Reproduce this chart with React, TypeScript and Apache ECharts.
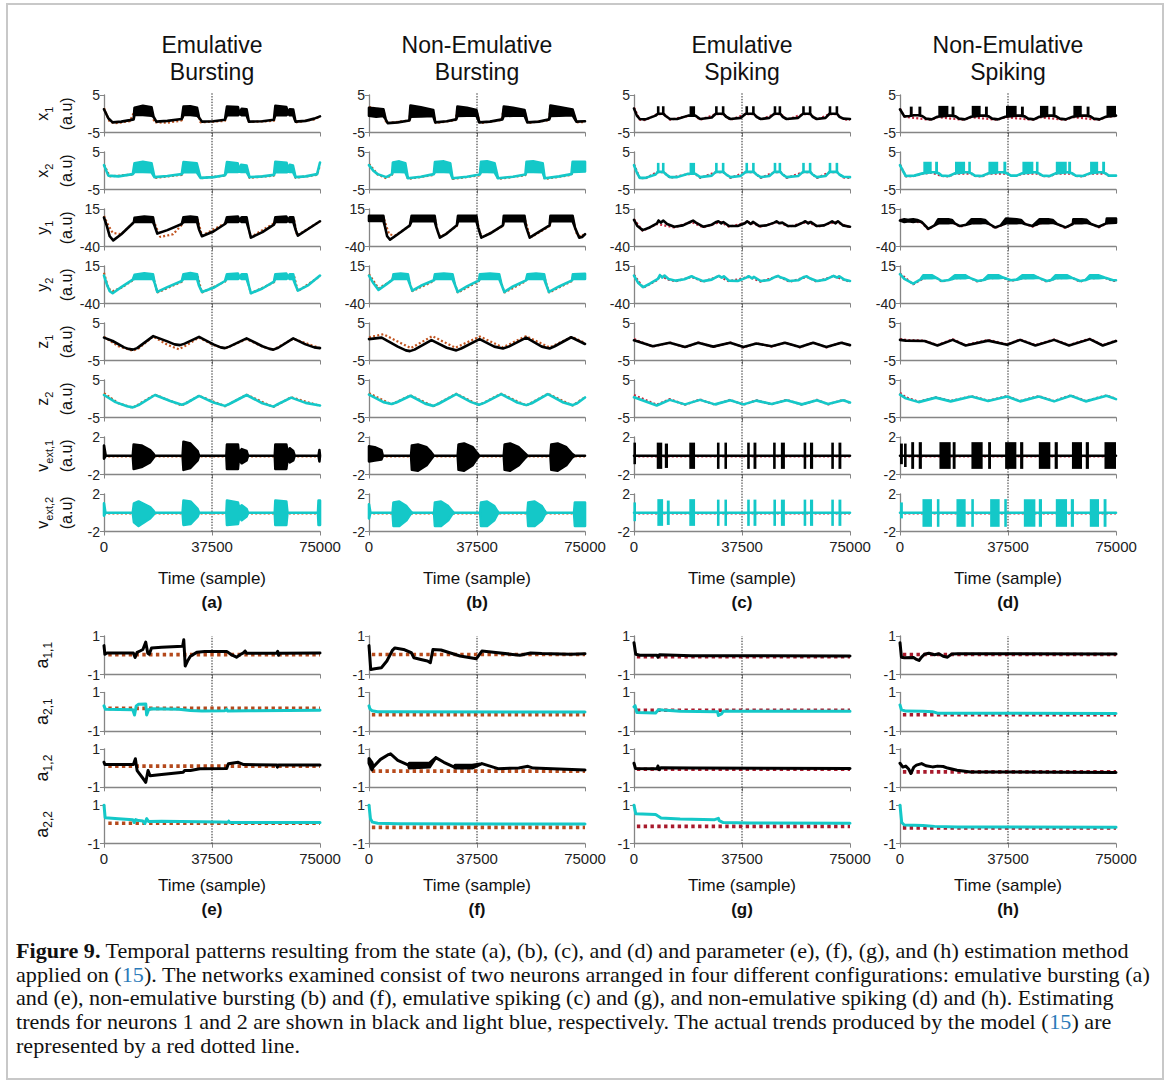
import React, { useEffect, useRef } from "react";
import * as echarts from "echarts";

// ---------------- DATA (time in thousands of samples, values in a.u.) ----------------
const TIME_TICKS = [0, 37500, 75000];
const COL_TITLES = ["Emulative\nBursting", "Non-Emulative\nBursting", "Emulative\nSpiking", "Non-Emulative\nSpiking"];
const STATE_LETTERS = ["(a)", "(b)", "(c)", "(d)"];
const PARAM_LETTERS = ["(e)", "(f)", "(g)", "(h)"];
const STATE_NAMES = [["x", "1"], ["x", "2"], ["y", "1"], ["y", "2"], ["z", "1"], ["z", "2"], ["v", "ext,1"], ["v", "ext,2"]];
const STATE_RANGES = [[-5, 5], [-5, 5], [-40, 15], [-40, 15], [-5, 5], [-5, 5], [-2, 2], [-2, 2]];
const PARAM_NAMES = [["a", "1,1"], ["a", "2,1"], ["a", "1,2"], ["a", "2,2"]];
const PARAM_RANGE = [-1, 1];

// ---- (a) Emulative bursting ----  [t, lo, hi?]
const a_x1_est = [[0,1.2],[1.5,-1.2],[3,-2.3],[6,-2.1],[9,-1.7],[10.3,-1.5],[10.6,-0.3,1.6],[13.5,-0.3,2.1],[16.5,-0.5,1.7],[17.2,-0.8],[18.2,-2.1],[22,-1.9],[27,-1.4],[27.6,-0.3,1.9],[30,-0.3,2.0],[32.3,-0.5,1.6],[33,-1.0],[34,-2.1],[38,-2.0],[42,-1.6],[42.7,-0.3,1.9],[46.5,-0.4,1.8],[47,0],[47.8,-0.4,1.3],[49.5,-0.4,1.2],[50.3,-2.1],[55,-2.0],[59,-1.6],[59.5,-0.3,2.1],[63.3,-0.4,1.8],[64,0],[64.5,-0.4,1.2],[65.7,-0.4,1.1],[66.5,-2.1],[70,-1.9],[73,-1.3],[75,-0.7]];
const a_x1_act = [[0,1.5],[2,-2.2],[4,-2.5],[9,-2.0],[10.5,0.5],[16.5,0.7],[17.5,-2.3],[22,-2.4],[27,-1.8],[28,0.6],[32.3,0.6],[33.5,-2.3],[42,-1.9],[43,0.6],[46.5,0.5],[47.8,0.4],[49.5,0.3],[50.3,-2.2],[59,-1.9],[59.8,0.6],[63.3,0.6],[65.7,0.3],[66.5,-2.3],[73,-1.5],[75,-0.8]];
const a_x2_est = [[0,1.5],[1.5,-1.3],[5,-1.5],[10,-0.9],[10.6,-0.3,2.0],[13.5,-0.3,2.4],[16.5,-0.4,2.0],[17.5,-1.7],[22,-1.4],[27,-0.9],[27.6,-0.3,2.3],[32.2,-0.4,2.0],[33.5,-1.9],[38,-1.7],[42,-1.2],[42.7,-0.3,2.3],[46.4,-0.3,2.0],[47,-0.2],[47.6,-0.3,1.6],[49.5,-0.3,1.4],[50.5,-1.7],[55,-1.5],[59,-1.1],[59.5,-0.3,2.4],[63.4,-0.4,2.1],[64,-0.2],[64.5,-0.3,1.6],[65.6,-0.3,1.4],[66.5,-1.7],[70,-1.5],[74,-0.9],[74.6,1.0],[75,2.2]];
const a_x2_act = [[0,1.6],[2,-1.5],[10,-1.0],[10.6,0.8],[16.5,0.8],[17.5,-1.9],[27,-1.1],[28,0.8],[32.2,0.8],[33.5,-2.0],[42,-1.3],[43,0.8],[49.5,0.6],[50.5,-1.9],[59,-1.3],[60,0.8],[65.6,0.6],[66.5,-1.9],[74,-1.1],[75,1.5]];
const a_y1_est = [[0,2.5],[1,-10],[2,-25],[3.2,-31],[6,-22],[10,-6],[10.4,-4],[10.6,-4,2],[14,-4,4],[17,-4,3],[17.6,-10],[18.5,-21],[22,-16],[27,-7],[27.6,-4,3],[30,-4,4],[32.3,-4,3],[33,-15],[34,-25],[38,-18],[42,-7],[42.7,-4,3],[46.5,-4,4],[47,-2],[47.8,-4,3],[49.5,-4,3],[50.3,-15],[51,-27],[55,-19],[59,-8],[59.5,-4,3],[63.3,-4,4],[64,-2],[64.5,-4,3],[65.7,-4,3],[66.5,-15],[67.3,-24],[71,-14],[75,-3]];
const a_y1_act = [[0,5],[1,-5],[3,-20],[6,-22],[10,-6],[10.6,0],[17,-1],[18,-10],[19.5,-26],[24,-22],[27.5,-6],[28,0],[32.5,0],[34,-24],[42,-6],[43,0],[49.5,-1],[51,-26],[59,-6],[60,0],[66,0],[67,-24],[75,-3]];
const a_y2_est = [[0,1],[1,-12],[2,-22],[3,-25],[6,-16],[10,-5],[10.6,-4,2],[14,-4,4.4],[17,-4,3],[17.6,-10],[18.5,-23],[22,-16],[27,-7],[27.6,-4,3],[30,-4,4.5],[32.3,-4,3],[33,-14],[34,-23],[38,-17],[42,-7],[42.7,-4,3],[46.5,-4,4],[47,-2],[47.8,-4,3],[49.5,-4,3],[50.3,-14],[51,-25],[55,-18],[59,-8],[59.5,-4,3],[63.3,-4,4],[64,-2],[64.5,-4,3],[65.7,-4,3],[66.5,-13],[67.3,-21],[71,-13],[75,1]];
const a_y2_act = [[0,5],[1.5,-18],[3,-22],[6,-17],[10,-6],[10.6,0],[17,0],[18.5,-24],[27,-8],[28,0],[32.5,0],[34,-24],[42,-8],[43,0],[49.5,0],[51,-25],[59,-9],[60,0],[66,0],[67.3,-22],[75,0]];
const a_z1_est = [[0,1.1],[3,0.2],[7,-1.5],[8.5,-1.9],[10,-2.1],[11.5,-1.7],[17.1,1.5],[22,0.1],[24.5,-0.7],[26.4,-0.9],[28,-0.5],[33,1.3],[38,-0.7],[40.5,-1.5],[42,-1.7],[43.5,-1.3],[49.5,0.9],[55,-1.2],[57.5,-1.9],[58.8,-2.1],[60.5,-1.6],[65.7,0.9],[70,-0.7],[73,-1.5],[75,-1.7]];
const a_z1_act = [[0,1.3],[5,-1.2],[10,-2.4],[12,-1.8],[17,1.4],[22,-0.8],[26,-2.0],[28,-1.2],[33,1.1],[38,-0.9],[42,-1.8],[49.5,0.7],[55,-1.3],[58.8,-2.1],[65.7,0.8],[75,-1.7]];
const a_z2_est = [[0,1.0],[4,-0.9],[8,-2.0],[10,-2.3],[12,-1.7],[17.7,1.0],[23,-0.6],[27,-1.6],[28.5,-1.2],[33,0.75],[38,-1.0],[42,-1.9],[43.5,-1.4],[49.5,1.0],[55,-1.2],[58.8,-2.1],[60.5,-1.4],[65,0.3],[70,-1.1],[75,-1.8]];
const a_z2_act = [[0,1.5],[5,-1.2],[10,-2.4],[17.7,1.1],[27,-1.8],[33,0.8],[42,-2.0],[49.5,1.1],[58.8,-2.2],[65,0.4],[75,-1.9]];
const a_v1_est = [[0,-0.3,1.1],[0.6,0],[10,0],[10.3,-1.4,1.2],[13,-1.2,1.1],[16,-0.7,0.6],[17.2,-0.2,0.2],[17.6,0],[27.3,0],[27.6,-1.5,1.5],[30,-1.3,1.3],[32.5,-0.5,0.5],[33,0],[42.5,0],[42.7,-1.4,1.2],[46.5,-1.4,1.2],[46.8,-0.3,0.3],[47.8,-0.8,0.7],[49.5,-0.5,0.5],[50,0],[59.3,0],[59.5,-1.4,1.2],[63.3,-1.4,1.2],[63.8,-0.2,0.2],[64.5,-0.7,0.8],[65.7,-0.5,0.5],[66.2,0],[74.5,0],[74.8,-0.6,0.6],[75,0]];
const a_v1_act = [[0,-0.07],[75,-0.07]];
const a_v2_est = [[0,-0.3,1.0],[0.5,0],[10,0],[10.4,-1.0,1.0],[12,-1.4,1.2],[16,-0.6,0.6],[17.2,-0.2,0.2],[17.6,0],[27.3,0],[27.6,-1.3,1.3],[30,-1.2,1.2],[32.5,-0.4,0.4],[33,0],[42.5,0],[42.7,-1.3,1.3],[46.5,-1.2,1.1],[47,-0.4,0.4],[47.8,-0.8,0.8],[49.5,-0.4,0.4],[50,0],[59.3,0],[59.5,-1.3,1.3],[63.3,-1.3,1.2],[63.7,0],[74.3,0],[74.5,-1.3,1.3],[75,-1.3,1.3]];
const a_v2_act = [[0,-0.07],[75,-0.07]];

// ---- (b) Non-emulative bursting ----
const b_x1_est = [[0,-0.5,1.6],[2.5,-0.8,1.4],[5,-0.6,1.2],[5.8,-1.5],[6.5,-2.5],[10,-2.3],[14,-1.8],[14.4,-0.8,2.2],[18,-0.7,1.7],[22.3,-0.6,1.0],[23,-2.3],[27,-2.0],[30.3,-1.5],[30.7,-0.6,1.9],[34,-0.5,1.6],[37.3,-0.5,1.0],[38.3,-2.3],[42,-2.1],[46.3,-1.5],[46.8,-0.6,1.9],[50,-0.5,1.6],[54,-0.5,1.0],[55,-2.3],[59,-2.1],[62.6,-1.5],[63,-0.6,2.2],[66,-0.5,1.8],[70.7,-0.4,1.1],[72,-2.1],[75,-2.0]];
const b_x1_act = [[0,1.8],[5,1],[6,-2.5],[14,-1.8],[14.5,1.5],[22,0.8],[23.2,-2.5],[30,-1.7],[30.8,1.4],[37.3,0.8],[38.5,-2.5],[46,-1.7],[46.8,1.4],[54,0.8],[55,-2.5],[62.5,-1.7],[63,1.5],[70.7,0.9],[72,-2.3],[75,-2.2]];
const b_x2_est = [[0,1.5],[1.5,0],[3,-0.9],[6,-1.7],[8,-0.9],[8.3,-0.3,2.2],[10.5,-0.3,2.5],[12.6,-0.4,2.0],[13.5,-2.0],[18,-1.6],[22.5,-0.9],[22.9,-0.3,2.3],[26,-0.3,2.5],[28.2,-0.4,2.0],[29,-2.0],[34,-1.6],[38.5,-1.0],[38.9,-0.3,2.4],[41,-0.3,2.5],[43.6,-0.4,2.0],[44.8,-2.0],[50,-1.6],[54.3,-1.0],[54.7,-0.3,2.4],[57,-0.3,2.5],[60.3,-0.4,2.0],[61,-2.0],[66,-1.5],[70.3,-0.9],[70.7,-0.3,2.4],[75,-0.2,2.4]];
const b_x2_act = [[0,1.8],[3,-1.0],[6,-2.0],[8,-1.1],[8.5,1.0],[12.6,0.8],[13.5,-2.2],[22.5,-1.1],[23,1.0],[28.2,0.8],[29,-2.2],[38.5,-1.2],[39,1.0],[43.6,0.8],[44.8,-2.2],[54.3,-1.2],[55,1.0],[60.3,0.8],[61,-2.2],[70.3,-1.1],[71,1.0],[75,1.0]];
const b_y1_est = [[0,-2.5,5],[5,-2.5,5],[5.5,-10],[6.3,-25],[7.3,-30],[10,-22],[14.2,-9],[14.8,-3,5],[18,-3,5],[22.8,-3,5],[23.4,-12],[24.6,-27],[27,-21],[30.5,-9],[30.9,-3,5],[34,-3,5],[37.3,-3,5],[37.9,-12],[39,-27],[42,-21],[46.5,-9],[46.8,-3,5],[50,-3,5],[54,-3,5],[54.6,-12],[55.8,-27],[58,-21],[62.7,-9],[63,-3,5],[67,-3,5],[70.7,-3,5],[71.5,-12],[73,-27],[74,-26],[75,-22]];
const b_y1_act = [[0,3],[5,3],[6,-10],[7,-22],[9,-24],[14,-10],[15,2],[22.8,2],[24,-20],[25,-26],[30.5,-10],[31,2],[37.3,2],[38.5,-20],[39.5,-26],[46.5,-10],[47,2],[54,2],[55.5,-20],[56.5,-26],[62.7,-10],[63.2,2],[70.7,2],[72,-20],[73.5,-26],[75,-21]];
const b_y2_est = [[0,1],[1.5,-10],[3.3,-20],[6,-12],[8.2,-5],[8.5,-4,3],[11,-4,4],[13.5,-4,3],[14.2,-12],[15,-21],[18,-14],[22.5,-6],[22.9,-4,3],[26,-4,4],[29,-4,3],[29.8,-12],[30.8,-23],[34,-15],[38.2,-6],[38.5,-4,3],[42,-4,4],[45.2,-4,3],[46,-12],[47,-23],[50,-15],[54.5,-6],[55,-4,3],[58,-4,4],[60.8,-4,3],[61.5,-12],[62.5,-23],[66,-15],[70.5,-6],[70.8,-4,3],[75,-4,3.5]];
const b_y2_act = [[0,3],[3.3,-18],[8,-6],[8.5,1],[13.5,0],[15,-22],[22.5,-7],[23,1],[29,0],[30.8,-24],[38.2,-7],[38.6,1],[45.2,0],[47,-24],[54.5,-7],[55,1],[60.8,0],[62.5,-24],[70.5,-7],[71,1],[75,1]];
const b_z1_est = [[0,0.7],[4.4,1.1],[10,-1.3],[12.8,-2.3],[14.2,-2.5],[15.8,-2.1],[21.7,0.45],[27,-1.6],[30.3,-2.3],[32,-1.8],[38.4,0.7],[43.5,-1.3],[46.5,-1.8],[48.5,-1.3],[54.6,1.1],[60,-1.3],[62.7,-1.8],[64.5,-1.2],[70.2,1.2],[75,-0.6]];
const b_z1_act = [[0,1.2],[5,2.0],[14.5,-1.7],[22,1.5],[30,-1.6],[38.5,1.4],[46.5,-1.5],[54.5,1.5],[62.7,-1.5],[70.5,1.3],[75,-0.3]];
const b_z2_est = [[0,1.1],[5,-0.9],[7.8,-1.4],[9.5,-1.0],[14.4,0.8],[19.5,-1.3],[22.3,-1.9],[24,-1.4],[30.3,1.25],[35.5,-0.9],[38.2,-1.6],[40,-1.1],[45.9,1.25],[51.5,-1.0],[54.6,-1.7],[56.5,-1.2],[62.1,1.25],[67.5,-1.0],[70.7,-1.7],[72.3,-1.2],[75,0.35]];
const b_z2_act = [[0,1.5],[7.8,-1.5],[14.4,0.9],[22.3,-2.0],[30.3,1.35],[38.2,-1.7],[45.9,1.35],[54.6,-1.8],[62.1,1.35],[70.7,-1.8],[75,0.4]];
const b_v1_est = [[0,-0.6,1.0],[2,-0.5,0.9],[4.3,-0.4,0.6],[4.8,0],[14.6,0],[14.9,-1.5,1.1],[17,-1.6,1.2],[20,-1.0,0.9],[21.5,-0.4,0.4],[22.5,0],[30.8,0],[31.1,-1.5,1.2],[33,-1.6,1.3],[36,-1.0,0.9],[37.5,-0.3,0.3],[38.3,0],[46.8,0],[47.1,-1.5,1.2],[49,-1.6,1.3],[52,-1.0,0.9],[54,-0.3,0.3],[55,0],[63,0],[63.3,-1.5,1.2],[65.5,-1.6,1.3],[68.5,-1.0,0.9],[70.5,-0.2,0.2],[71.5,0],[75,0]];
const b_v1_act = [[0,-0.07],[75,-0.07]];
const b_v2_est = [[0,-0.6,0.9],[0.5,0],[8.2,0],[8.5,-1.4,1.1],[10.5,-1.4,1.2],[13,-0.8,0.7],[14.3,-0.2,0.2],[15,0],[22.6,0],[22.9,-1.4,1.1],[25,-1.4,1.2],[27.5,-0.8,0.7],[28.8,-0.2,0.2],[29.5,0],[38.6,0],[38.9,-1.4,1.1],[41,-1.4,1.2],[43.5,-0.8,0.7],[44.5,-0.2,0.2],[45,0],[55,0],[55.3,-1.4,1.1],[57.5,-1.4,1.2],[60,-0.8,0.7],[61,-0.2,0.2],[61.5,0],[71.2,0],[71.5,-1.4,1.1],[75,-1.4,1.1]];
const b_v2_act = [[0,-0.07],[75,-0.07]];

// ---- (c) Emulative spiking ----  spikes: [t0, t1, lo, hi]
const c_x1_est = [[0,1.4],[1,-0.5],[2,-1.4],[4,-1.5],[7.5,-0.5],[8.3,0],[10.2,0],[11,-0.6],[12.5,-1.4],[15,-1.4],[18.8,-0.5],[21.3,-0.5],[23,-1.4],[27,-1.0],[28.4,0],[31,0],[32,-0.8],[33.5,-1.4],[37,-1.1],[38.8,0],[41.6,0],[42.5,-0.8],[44,-1.4],[47,-1.1],[48.7,0],[50.8,0],[51.6,-0.8],[53,-1.4],[57,-1.1],[58.7,0],[61.2,0],[62,-0.8],[63.5,-1.4],[66.5,-1.1],[67.9,0],[70.5,0],[71.3,-0.8],[72.7,-1.3],[75,-1.4]];
const c_x1_spk = [[8.0,8.8,-0.3,2.0],[9.8,10.5,-0.3,2.0],[19.3,21.2,-0.5,2.0],[28.3,28.9,-0.3,2.0],[30.6,31.3,-0.3,2.0],[38.8,39.5,-0.3,2.0],[41.1,41.8,-0.3,2.0],[48.6,49.3,-0.3,2.0],[50.3,51.0,-0.3,2.0],[58.5,59.2,-0.3,2.0],[60.8,61.5,-0.3,2.0],[67.7,68.4,-0.3,2.0],[70.1,70.8,-0.3,2.0]];
const c_x1_act = [[0,1.6],[2,-1.6],[4,-1.7],[8,-0.1],[10.5,-0.1],[12.5,-1.6],[18.8,-0.6],[21.3,-0.6],[23,-1.6],[28.4,-0.1],[31,-0.1],[33.5,-1.6],[38.8,-0.1],[41.6,-0.1],[44,-1.6],[48.7,-0.1],[51,-0.1],[53,-1.6],[58.7,-0.1],[61.2,-0.1],[63.5,-1.6],[67.9,-0.1],[70.5,-0.1],[72.7,-1.5],[75,-1.6]];
const c_x2_est = [[0,1.5],[1,-0.5],[2,-1.9],[4,-1.9],[7.5,-1.0],[8.3,-0.3],[10.2,-0.3],[11,-0.9],[12.5,-1.7],[15,-1.7],[18.8,-0.8],[21.3,-0.8],[23,-1.7],[27,-1.3],[28.4,-0.3],[31,-0.3],[32,-1.0],[33.5,-1.7],[37,-1.4],[38.8,-0.3],[41.6,-0.3],[42.5,-1.0],[44,-1.7],[47,-1.4],[48.7,-0.3],[50.8,-0.3],[51.6,-1.0],[53,-1.7],[57,-1.4],[58.7,-0.3],[61.2,-0.3],[62,-1.0],[63.5,-1.7],[66.5,-1.4],[67.9,-0.3],[70.5,-0.3],[71.3,-1.0],[72.7,-1.6],[75,-1.7]];
const c_x2_spk = [[8.0,8.8,-0.5,2.1],[9.8,10.5,-0.5,2.1],[19.3,21.2,-0.6,2.1],[28.3,28.9,-0.5,2.1],[30.6,31.3,-0.5,2.1],[38.8,39.5,-0.5,2.1],[41.1,41.8,-0.5,2.1],[48.6,49.3,-0.5,2.1],[50.3,51.0,-0.5,2.1],[58.5,59.2,-0.5,2.1],[60.8,61.5,-0.5,2.1],[67.7,68.4,-0.5,2.1],[70.1,70.8,-0.5,2.1]];
const c_x2_act = [[0,1.7],[2,-2.0],[4,-2.0],[8,-0.4],[10.5,-0.4],[12.5,-1.9],[18.8,-0.9],[21.3,-0.8],[23,-1.9],[28.4,-0.4],[31,-0.4],[33.5,-1.9],[38.8,-0.4],[41.6,-0.4],[44,-1.9],[48.7,-0.4],[51,-0.4],[53,-1.9],[58.7,-0.4],[61.2,-0.4],[63.5,-1.9],[67.9,-0.4],[70.5,-0.4],[72.7,-1.8],[75,-1.9]];
const c_y1_est = [[0,-1],[1.2,-10],[3,-16],[5,-13],[8,-6],[8.5,-2],[9.3,-5],[10.2,-2],[11.5,-7],[14,-11],[17,-9],[19.5,-4],[20.5,-2],[21.5,-5],[24,-11],[27,-8],[28.6,-4],[29.3,-3],[30.3,-6],[31,-4],[33,-10],[36,-10],[38.5,-6],[39.3,-3],[40.5,-7],[41.3,-4],[43.5,-10],[46,-9],[48.7,-5],[49.5,-3],[50.5,-6],[51.5,-5],[53.5,-10],[56,-10],[58.6,-5],[59.5,-3],[60.5,-6],[61.3,-4],[63.5,-10],[66,-9],[68,-5],[68.8,-3],[70,-6],[70.8,-3],[72.5,-9],[75,-11]];
const c_y1_act = [[0,0],[3,-17],[8,-7],[14,-12],[20,-4],[24,-12],[30,-4],[33,-11],[40,-4],[44,-11],[50,-4],[54,-11],[60,-4],[64,-11],[70,-4],[75,-12]];
const c_y2_est = [[0,1],[1.5,-10],[3.2,-16],[5.5,-11],[8.3,-4],[9,1.5],[9.8,-2],[10.6,1],[12,-4],[14.5,-6.5],[17.5,-4.5],[20,0],[21,-2],[24,-7.2],[27,-5],[28.7,-1],[29.5,0.5],[30.5,-2],[31.2,0],[33,-6.5],[36,-7],[39,-2],[39.8,0],[41,-3],[41.6,-1],[44,-7],[47,-5.5],[49,-1],[50,0.5],[51,-2],[52,-3],[54,-7],[57,-6],[59,-1],[60,0],[61,-3],[63.5,-7],[66.5,-5],[68.5,-1],[69.3,0.5],[70.5,-2],[71.3,0],[73,-5],[75,-7]];
const c_y2_act = [[0,2],[3.2,-17],[8.3,-5],[9,1],[12,-5],[14.5,-7.5],[20,-1],[24,-8],[29.5,0],[33,-7.5],[39.8,-1],[44,-8],[50,0],[54,-8],[60,-1],[63.5,-8],[69.3,0],[75,-8]];
const c_z1_est = [[0,0.4],[6.5,-1.2],[12.4,-0.25],[17.7,-1.4],[22.3,-0.25],[27.5,-1.3],[33.4,-0.25],[38,-1.4],[42.5,-0.45],[47.8,-1.2],[52.4,-0.25],[57.6,-1.4],[62.2,-0.25],[66.8,-1.4],[72,-0.25],[75,-0.9]];
const c_z1_act = [[0,0.7],[6.5,-1.3],[12.4,-0.2],[17.7,-1.5],[22.3,-0.2],[27.5,-1.4],[33.4,-0.2],[38,-1.5],[42.5,-0.4],[47.8,-1.3],[52.4,-0.2],[57.6,-1.5],[62.2,-0.2],[66.8,-1.5],[72,-0.2],[75,-1.0]];
const c_z2_est = [[0,0.4],[7.9,-1.8],[12.4,-0.3],[17.7,-1.5],[22.9,-0.3],[28.1,-1.5],[33.4,-0.4],[38,-1.5],[42.5,-0.5],[47.8,-1.4],[53,-0.4],[58.3,-1.5],[63.5,-0.4],[67.4,-1.4],[72.6,-0.4],[75,-1.0]];
const c_z2_act = [[0,1.0],[7.9,-1.6],[12.4,-0.1],[17.7,-1.6],[22.9,-0.2],[28.1,-1.6],[33.4,-0.3],[38,-1.6],[42.5,-0.4],[47.8,-1.5],[53,-0.3],[58.3,-1.6],[63.5,-0.3],[67.4,-1.5],[72.6,-0.3],[75,-1.1]];
const c_v1_est = [[0,0],[75,0]];
const c_v1_spk = [[0,0.5,-0.9,1.4],[7.9,9.8,-1.4,1.4],[10.7,11.8,-1.3,1.3],[19.2,21.2,-1.4,1.4],[28.8,29.7,-1.4,1.4],[31.4,32.3,-1.4,1.4],[39.3,40.2,-1.4,1.4],[41.5,42.5,-1.4,1.4],[48.4,49.1,-1.4,1.4],[51,52.4,-1.4,1.4],[58.9,59.8,-1.4,1.4],[61.1,62.2,-1.4,1.4],[68.5,69.4,-1.4,1.4],[71,72,-1.4,1.4]];
const c_v1_act = [[0,-0.08],[75,-0.08]];
const c_v2_est = [[0,0],[75,0]];
const c_v2_spk = [[0,0.5,-0.9,1.1],[8.1,10.1,-1.4,1.45],[11.4,12.4,-1.3,1.3],[19.2,21.2,-1.4,1.45],[28.8,29.7,-1.4,1.4],[31.4,32.3,-1.4,1.4],[39.3,40.2,-1.4,1.4],[41.5,42.5,-1.4,1.4],[48.4,49.3,-1.4,1.4],[51,52.4,-1.4,1.4],[58.9,59.8,-1.4,1.4],[61.1,62.2,-1.4,1.4],[68.5,69.4,-1.4,1.4],[71,72,-1.4,1.4]];
const c_v2_act = [[0,-0.08],[75,-0.08]];

// ---- (d) Non-emulative spiking ----
const d_x1_est = [[0,1.2],[1.5,-0.7],[3.3,-0.6],[4.8,-0.4],[6.3,-0.4],[7.7,-0.6],[9,-1.3],[11,-1.5],[13,-0.8],[16.9,-0.5],[17.8,-0.5],[19.3,-0.7],[20.5,-1.3],[22.5,-1.5],[24.7,-0.8],[28,-0.5],[29.4,-0.5],[30.8,-0.7],[32,-1.3],[34,-1.5],[36.6,-0.8],[40.6,-0.5],[41.9,-0.5],[43.3,-0.7],[44.5,-1.3],[46.5,-1.5],[48.4,-0.8],[51.6,-0.5],[52.9,-0.5],[54.2,-0.7],[55.5,-1.3],[57.5,-1.5],[60,-0.8],[63.2,-0.5],[64.7,-0.5],[66.1,-0.7],[67.3,-1.3],[69.3,-1.5],[71.5,-0.8],[75,-0.5]];
const d_x1_spk = [[3.4,4.4,-0.6,1.9],[6.4,7.4,-0.6,1.9],[13.3,16.8,-0.6,2.1],[17.9,18.9,-0.6,1.9],[24.9,28,-0.6,2.1],[29.5,30.5,-0.6,1.9],[36.8,40.5,-0.6,2.1],[42,43,-0.6,1.9],[48.6,51.5,-0.6,2.1],[53,54,-0.6,1.9],[60.2,63.1,-0.6,2.1],[64.8,65.8,-0.6,1.9],[71.7,75,-0.6,2.1]];
const d_x1_act = [[0,1.3],[1.5,-0.8],[9,-1.5],[11,-1.6],[13,-0.9],[20.5,-1.5],[22.5,-1.6],[24.7,-0.9],[32,-1.5],[34,-1.6],[36.6,-0.9],[44.5,-1.5],[46.5,-1.6],[48.4,-0.9],[55.5,-1.5],[57.5,-1.6],[60,-0.9],[67.3,-1.5],[69.3,-1.6],[71.5,-0.9],[75,-0.6]];
const d_x2_est = [[0,1.5],[1,0],[2,-1.4],[5,-1.3],[7.8,-0.7],[11,-0.4],[12.1,-0.4],[13.5,-0.7],[14.5,-1.3],[17,-1.4],[19,-0.7],[22.7,-0.4],[23.6,-0.4],[24.8,-0.7],[26,-1.3],[28.5,-1.4],[30.6,-0.7],[34.2,-0.4],[35.8,-0.4],[37.2,-0.7],[38.5,-1.3],[40.5,-1.3],[42.3,-0.7],[46.4,-0.4],[47.1,-0.4],[48.2,-0.7],[49.5,-1.3],[52,-1.4],[54,-0.7],[58,-0.4],[58.3,-0.4],[59.8,-0.7],[61,-1.3],[63.5,-1.4],[65.8,-0.7],[68.9,-0.4],[70.1,-0.4],[71.4,-0.7],[72.5,-1.3],[75,-1.3]];
const d_x2_spk = [[8.1,11,-0.7,2.4],[12.2,13.2,-0.7,2.4],[19.1,22.6,-0.7,2.4],[23.7,24.6,-0.7,2.4],[30.7,34.1,-0.7,2.4],[35.9,36.9,-0.7,2.4],[42.5,46.3,-0.7,2.4],[47.2,48.1,-0.7,2.4],[54.1,57.9,-0.7,2.4],[58.4,59.4,-0.7,2.4],[66,68.8,-0.7,2.4],[70.2,71.2,-0.7,2.4]];
const d_x2_act = [[0,1.7],[2,-1.5],[5,-1.4],[7.8,-0.8],[11,-0.5],[14.5,-1.4],[17,-1.5],[19,-0.8],[24.8,-0.8],[26,-1.4],[28.5,-1.5],[30.6,-0.8],[37.2,-0.8],[38.5,-1.4],[40.5,-1.4],[42.3,-0.8],[48.2,-0.8],[49.5,-1.4],[52,-1.5],[54,-0.8],[59.8,-0.8],[61,-1.4],[63.5,-1.5],[65.8,-0.8],[71.4,-0.8],[72.5,-1.4],[75,-1.4]];
const d_y1_est = [[0,-2],[1.5,-4,0],[3,-3,-1],[4.6,-4,0],[6,-3,-1],[7.5,-4],[9.8,-14],[12,-9],[13.3,-6,0],[16.8,-6,0],[18,-5,-1],[19,-6],[20.8,-10],[23,-8],[24.9,-6,0],[28,-6,0],[29.5,-5,-1],[31,-7],[33,-12],[35,-9],[36.8,-6,1],[40.5,-6,0],[42,-5,-1],[43.3,-7],[46,-10],[48.5,-6,0],[51.5,-6,0],[53,-5,-1],[54.5,-7],[57.5,-12],[60,-7],[60.2,-6,0],[63.1,-6,0],[64.8,-5,-1],[66.3,-7],[69,-11],[71.6,-6],[71.8,-6,1],[75,-5,1]];
const d_y1_act = [[0,-1],[7.5,-5],[9.8,-15],[13,-6],[18,-4],[20.8,-11],[24.9,-6],[30,-4],[33,-13],[36.8,-6],[42,-4],[46,-11],[48.5,-6],[53,-4],[57.5,-13],[60.2,-6],[65,-4],[69,-12],[71.8,-6],[75,-4]];
const d_y2_est = [[0,3],[1.5,-4],[4.6,-11],[7,-5],[8.1,-3,1.5],[11,-3,1.5],[12.5,-2],[14.5,-7],[17,-5.5],[19.1,-3,1.5],[22.6,-3,1.5],[24,-2],[27,-7],[29,-5.5],[30.7,-3,1.5],[34.1,-3,1.5],[35.8,-2],[38.5,-6],[40.5,-5],[42.5,-3,1.5],[46.3,-3,1.5],[48,-2],[51,-7],[52.5,-5.5],[54.1,-3,1.5],[57.9,-3,1.5],[59.6,-2],[62.5,-7],[64.5,-5.5],[66,-3,1.5],[68.8,-3,1.5],[71,-2],[74,-6],[75,-6]];
const d_y2_act = [[0,4],[4.6,-12],[8.1,-3],[12.5,-2],[14.5,-8],[19.1,-3],[24,-2],[27,-8],[30.7,-3],[35.8,-2],[38.5,-7],[42.5,-3],[48,-2],[51,-8],[54.1,-3],[59.6,-2],[62.5,-8],[66,-3],[71,-2],[74,-7],[75,-7]];
const d_z1_est = [[0,0.5],[2,0.3],[8.5,0.2],[13,-1.0],[18.3,0.5],[22.8,-1.0],[30.6,0.3],[37.2,-0.8],[41.7,0.5],[47,-1.0],[53.5,0.5],[58.7,-1.0],[65.9,0.7],[70.4,-1.0],[75,0.2]];
const d_z1_act = [[0,0.7],[2,0.5],[8.5,0.3],[13,-0.9],[18.3,0.7],[22.8,-0.9],[30.6,0.5],[37.2,-0.7],[41.7,0.6],[47,-0.9],[53.5,0.6],[58.7,-0.9],[65.9,0.8],[70.4,-0.9],[75,0.3]];
const d_z2_est = [[0,1.1],[2,0.1],[6.5,-0.9],[12.4,0.3],[17.6,-0.7],[24.8,0.6],[30.6,-0.6],[37.2,0.6],[41.7,-0.7],[48.2,0.6],[53.5,-0.7],[59.3,0.8],[64.5,-0.7],[71.7,0.8],[75,-0.1]];
const d_z2_act = [[0,1.6],[2,0.4],[6.5,-0.8],[12.4,0.4],[17.6,-0.6],[24.8,0.7],[30.6,-0.5],[37.2,0.7],[41.7,-0.6],[48.2,0.7],[53.5,-0.6],[59.3,0.9],[64.5,-0.6],[71.7,0.9],[75,0]];
const d_v1_est = [[0,0],[75,0]];
const d_v1_spk = [[0,1,-0.9,1.3],[1.5,2.2,-1.2,1.3],[3.9,4.9,-1.4,1.45],[6.5,7.6,-1.4,1.45],[13.7,17.6,-1.4,1.45],[18.3,19.3,-1.4,1.45],[24.8,28.7,-1.4,1.45],[30.6,31.6,-1.4,1.45],[36.5,40.4,-1.4,1.45],[41.7,42.8,-1.4,1.45],[48.2,52.2,-1.4,1.45],[53.7,54.8,-1.4,1.45],[59.7,63.2,-1.4,1.45],[64.5,65.6,-1.4,1.45],[71,75,-1.4,1.45]];
const d_v1_act = [[0,-0.08],[75,-0.08]];
const d_v2_est = [[0,0],[75,0]];
const d_v2_spk = [[0,1,-0.6,1.1],[7.8,11.1,-1.5,1.45],[12.8,13.7,-1.5,1.45],[19.6,22.8,-1.5,1.45],[24.8,25.6,-1.5,1.45],[31.3,34.6,-1.5,1.45],[36.3,37,-1.5,1.45],[43,47,-1.5,1.45],[48.2,49.3,-1.5,1.45],[54.1,58,-1.5,1.45],[59.3,60.4,-1.5,1.45],[65.9,69.1,-1.5,1.45],[70.7,71.7,-1.5,1.45]];
const d_v2_act = [[0,-0.08],[75,-0.08]];

// ---- parameters (e)-(h) ----
const e_a11_est = [[0,0.5],[0.3,0.05],[1,0.12],[10.2,0.12],[10.8,-0.12],[11.5,0.15],[12.5,0.22],[13.5,0.3],[14.5,0.68],[15.2,0.1],[15.7,0.05],[16.5,0.38],[20,0.42],[27.3,0.47],[27.7,0.8],[28.2,-0.56],[29,-0.3],[30,-0.05],[32.2,0.15],[35,0.2],[42.6,0.2],[44,0.05],[46,-0.1],[47.5,0.05],[48.4,0.12],[49,0.22],[49.5,0.1],[55,0.1],[60,0.12],[60.3,0.2],[60.6,0.0],[61,0.1],[75,0.12]];
const e_a21_est = [[0,0.3],[0.5,0.12],[10,0.1],[10.6,-0.17],[11.2,0.3],[12,0.38],[14.5,0.4],[14.8,-0.17],[15.5,0.1],[16.5,0.15],[26,0.12],[30,0.06],[34,0.03],[42,0.05],[42.6,0.12],[43,0.03],[50,0.05],[75,0.07]];
const e_a12_est = [[0,0.3],[0.3,0.18],[10.2,0.18],[10.9,0.48],[11.5,-0.13],[13.7,-0.57],[14.5,-0.74],[15.3,-0.13],[16,-0.4],[20,-0.33],[27.5,-0.22],[28,-0.13],[30,-0.13],[33.3,-0.04],[42.6,-0.02],[43.2,0.22],[46.6,0.3],[48.5,0.18],[60,0.16],[60.2,0.05],[60.6,0.16],[75,0.16]];
const e_a22_est = [[0,1],[0.4,0.35],[5,0.3],[10,0.25],[10.5,0.1],[11,0.25],[12,0.2],[13.5,0.18],[14.2,0.05],[14.8,0.3],[15.5,0.15],[20,0.17],[40,0.13],[43,0.12],[43.3,0.17],[43.6,0.1],[75,0.1]];
const e_a11_act = [[1.5,0.03],[75,0.03]];
const e_a21_act = [[1.5,0.17],[75,0.17]];
const e_a12_act = [[1.5,0.1],[75,0.1]];
const e_a22_act = [[1.5,0.06],[75,0.06]];

const f_a11_est = [[0,0.5],[0.6,-0.74],[2,-0.7],[4.3,-0.65],[6.2,-0.3],[8.1,0.25],[9,0.38],[12,0.3],[14.7,0.13],[15.6,-0.13],[18,-0.22],[20.3,-0.3],[21.3,-0.39],[22.2,0.3],[25,0.27],[31.6,-0.04],[37.3,-0.18],[39.2,0.22],[44.8,0.13],[52.4,0.0],[56.1,0.12],[60,0.09],[70,0.05],[75,0.08]];
const f_a21_est = [[0,0.3],[0.3,0.15],[1,0.05],[3,0.0],[8,-0.01],[75,-0.02]];
const f_a12_est = [[0,0.25,0.5],[1,-0.1,0.3],[1.5,0.06],[4,0.45],[6.5,0.68],[7.5,0.74],[10,0.4],[13.7,0.15],[14,0.0,0.25],[21,0.05,0.25],[23.2,0.54],[26,0.3],[29.4,0.06],[30,0.0,0.15],[35.8,0.0,0.15],[39.2,0.23],[44.8,-0.03],[52,0.0],[55.2,0.09],[57,0.0],[75,-0.1]];
const f_a22_est = [[0,1.0],[0.5,0.3],[1.2,0.12],[3,0.06],[10,0.04],[75,0.02]];
const f_a11_act = [[1,0.04],[75,0.04]];
const f_a21_act = [[1,-0.16],[75,-0.16]];
const f_a12_act = [[1,-0.16],[75,-0.16]];
const f_a22_act = [[1,-0.15],[75,-0.15]];

const g_a11_est = [[0,0.65],[0.6,0.05],[2,0.0],[8,0.0],[8.3,-0.1],[8.8,0.02],[20,-0.02],[75,-0.04]];
const g_a21_est = [[0,0.25],[0.4,0.3],[1,-0.05],[7.5,-0.07],[8.5,0.1],[10,0.08],[16,0.02],[29,0.0],[29.3,-0.2],[30.5,-0.1],[31,0.02],[75,0.02]];
const g_a12_est = [[0,0.25],[0.5,-0.02],[8,-0.03],[8.3,0.1],[8.8,-0.08],[9.3,0.02],[20,0.0],[75,-0.02]];
const g_a22_est = [[0,1.0],[0.6,0.56],[7.5,0.52],[8.2,0.45],[9.4,0.34],[16,0.28],[28,0.25],[29.3,0.32],[29.6,0.2],[31,0.1],[40,0.08],[75,0.06]];
const g_a11_act = [[1,-0.08],[75,-0.08]];
const g_a21_act = [[1,0.07],[75,0.07]];
const g_a12_act = [[1,-0.06],[75,-0.06]];
const g_a22_act = [[1,-0.1],[75,-0.1]];

const h_a11_est = [[0,0.65],[0.5,-0.1],[1.5,-0.13],[4.7,-0.12],[5.5,-0.2],[6.6,-0.27],[7.5,-0.1],[8.5,0.05],[10,0.1],[12,0.03],[13.5,0.08],[15,-0.05],[16.5,-0.1],[17.9,0.06],[20,0.08],[75,0.07]];
const h_a21_est = [[0,0.35],[0.5,0.1],[2,0.03],[8,0.02],[11.3,0.0],[13,-0.08],[75,-0.1]];
const h_a12_est = [[0,0.25],[1,0.05],[2,0.1],[3,-0.05],[3.8,-0.28],[4.8,0.05],[5.7,0.15],[7.5,0.23],[9,0.12],[11.3,0.06],[13,0.1],[15,0.08],[16.5,0.0],[19.8,-0.11],[24.5,-0.2],[75,-0.23]];
const h_a22_est = [[0,1.0],[0.6,0.1],[1.5,-0.03],[8,-0.06],[12,-0.1],[20,-0.13],[75,-0.14]];
const h_a11_act = [[1,0.04],[75,0.04]];
const h_a21_act = [[1,-0.16],[75,-0.16]];
const h_a12_act = [[1,-0.2],[75,-0.2]];
const h_a22_act = [[1,-0.18],[75,-0.18]];

const CAPTION_LINES = [
  "{b|Figure 9.} Temporal patterns resulting from the state (a), (b), (c), and (d) and parameter (e), (f), (g), and (h) estimation method",
  "applied on ({l|15}). The networks examined consist of two neurons arranged in four different configurations: emulative bursting (a)",
  "and (e), non-emulative bursting (b) and (f), emulative spiking (c) and (g), and non-emulative spiking (d) and (h). Estimating",
  "trends for neurons 1 and 2 are shown in black and light blue, respectively. The actual trends produced by the model ({l|15}) are",
  "represented by a red dotted line.",
];

// ---------------- tables built from the arrays ----------------
const STATE_EST = [
  [a_x1_est, a_x2_est, a_y1_est, a_y2_est, a_z1_est, a_z2_est, a_v1_est, a_v2_est],
  [b_x1_est, b_x2_est, b_y1_est, b_y2_est, b_z1_est, b_z2_est, b_v1_est, b_v2_est],
  [c_x1_est, c_x2_est, c_y1_est, c_y2_est, c_z1_est, c_z2_est, c_v1_est, c_v2_est],
  [d_x1_est, d_x2_est, d_y1_est, d_y2_est, d_z1_est, d_z2_est, d_v1_est, d_v2_est],
];
const STATE_ACT = [
  [a_x1_act, a_x2_act, a_y1_act, a_y2_act, a_z1_act, a_z2_act, a_v1_act, a_v2_act],
  [b_x1_act, b_x2_act, b_y1_act, b_y2_act, b_z1_act, b_z2_act, b_v1_act, b_v2_act],
  [c_x1_act, c_x2_act, c_y1_act, c_y2_act, c_z1_act, c_z2_act, c_v1_act, c_v2_act],
  [d_x1_act, d_x2_act, d_y1_act, d_y2_act, d_z1_act, d_z2_act, d_v1_act, d_v2_act],
];
const STATE_SPK: any[][] = [
  [null, null, null, null, null, null, null, null],
  [null, null, null, null, null, null, null, null],
  [c_x1_spk, c_x2_spk, null, null, null, null, c_v1_spk, c_v2_spk],
  [d_x1_spk, d_x2_spk, null, null, null, null, d_v1_spk, d_v2_spk],
];
const PARAM_EST = [
  [e_a11_est, e_a21_est, e_a12_est, e_a22_est],
  [f_a11_est, f_a21_est, f_a12_est, f_a22_est],
  [g_a11_est, g_a21_est, g_a12_est, g_a22_est],
  [h_a11_est, h_a21_est, h_a12_est, h_a22_est],
];
const PARAM_ACT = [
  [e_a11_act, e_a21_act, e_a12_act, e_a22_act],
  [f_a11_act, f_a21_act, f_a12_act, f_a22_act],
  [g_a11_act, g_a21_act, g_a12_act, g_a22_act],
  [h_a11_act, h_a21_act, h_a12_act, h_a22_act],
];

// ---------------- layout & style ----------------
const SANS = '"Liberation Sans", Arial, Helvetica, sans-serif';
const SERIF = '"Liberation Serif", "Times New Roman", serif';
const COL_LEFT = [104, 369, 634, 900];
const PLOT_W = 216;
const S_TOP0 = 95, S_PITCH = 57, S_H = 37.5;
const P_TOP0 = 636, P_PITCH = 56.4, P_H = 38.5;
const BLACK = "#000000";
const CYAN = "#14c8c8";
const RED_COL = ["#c2541f", "#c2541f", "#c4283f", "#c4283f"];
const RED_PAR = ["#b4491c", "#b84b1c", "#a81a2c", "#a81a2c"];
const AXIS_GRAY = "#858585";
const K = 1000;

function buildOption() {
  const grid: any[] = [];
  const xAxis: any[] = [];
  const yAxis: any[] = [];
  const series: any[] = [];

  const addPanel = (o: any) => {
    const i = grid.length;
    grid.push({ left: o.left, top: o.top, width: PLOT_W, height: o.h });
    xAxis.push({
      type: "value", gridIndex: i, min: 0, max: 75000, interval: 37500,
      axisLine: { show: true, onZero: false, lineStyle: { color: AXIS_GRAY, width: 1.3 } },
      axisTick: { show: true, length: 4, lineStyle: { color: AXIS_GRAY, width: 1 } },
      splitLine: { show: false },
      axisLabel: { show: o.last, formatter: (v: number) => String(v), fontSize: 15, fontFamily: SANS, color: "#222", margin: 7, showMinLabel: true, showMaxLabel: true },
      name: o.last ? `{t|Time (sample)}\n{b|${o.letter}}` : "",
      nameLocation: "middle", nameGap: o.xNameGap,
      nameTextStyle: { rich: {
        t: { fontSize: 17, fontFamily: SANS, color: "#111", lineHeight: 24 },
        b: { fontSize: 17, fontFamily: SANS, color: "#111", fontWeight: "bold", lineHeight: 24 },
      } },
    });
    yAxis.push({
      type: "value", gridIndex: i, min: o.min, max: o.max, interval: o.max - o.min,
      axisLine: { show: true, onZero: false, lineStyle: { color: AXIS_GRAY, width: 1.3 } },
      axisTick: { show: true, length: 4, lineStyle: { color: AXIS_GRAY, width: 1 } },
      splitLine: { show: false },
      axisLabel: { fontSize: 14, fontFamily: SANS, color: "#222", margin: 4, showMinLabel: true, showMaxLabel: true },
      name: o.yName || "", nameLocation: "middle", nameRotate: 90, nameGap: o.yNameGap,
      nameTextStyle: { rich: {
        m: { fontSize: o.nameSize, fontFamily: SANS, color: "#111", lineHeight: 24 },
        s: { fontSize: o.subSize, fontFamily: SANS, color: "#111", lineHeight: 14, verticalAlign: "bottom" },
      } },
    });
    // actual (red dotted)
    series.push({
      type: "line", xAxisIndex: i, yAxisIndex: i, silent: true, z: 2,
      data: o.act.map((p: number[]) => [p[0] * K, p[1]]),
      showSymbol: false, symbol: "none",
      lineStyle: { color: o.red, width: o.redW, type: o.redDash, cap: "butt" },
    });
    // estimated trace with burst envelopes
    const est = o.est;
    const color = o.color;
    const w = o.estW;
    series.push({
      type: "custom", xAxisIndex: i, yAxisIndex: i, silent: true, z: 3,
      data: [[0, 0]], encode: { x: 0, y: 1 },
      renderItem: (_params: any, api: any) => {
        const upper = est.map((p: number[]) => api.coord([p[0] * K, p.length > 2 ? p[2] : p[1]]));
        const lower = est.map((p: number[]) => api.coord([p[0] * K, p[1]])).reverse();
        return {
          type: "polygon",
          shape: { points: upper.concat(lower) },
          style: { fill: color, stroke: color, lineWidth: w, lineJoin: "round" },
        };
      },
    });
    if (o.spk) {
      series.push({
        type: "custom", xAxisIndex: i, yAxisIndex: i, silent: true, z: 3,
        data: o.spk.map((s: number[]) => [s[0] * K, s[1] * K, s[2], s[3]]),
        encode: { x: [0, 1], y: [2, 3] },
        renderItem: (_params: any, api: any) => {
          const a = api.coord([api.value(0), api.value(3)]);
          const b = api.coord([api.value(1), api.value(2)]);
          const wd = Math.max(b[0] - a[0], 2.6);
          return { type: "rect", shape: { x: a[0] - (wd - (b[0] - a[0])) / 2, y: a[1], width: wd, height: b[1] - a[1] }, style: { fill: color } };
        },
      });
    }
  };

  const addGuide = (left: number, top: number, h: number) => {
    const i = grid.length;
    grid.push({ left, top, width: PLOT_W, height: h });
    xAxis.push({ type: "value", gridIndex: i, min: 0, max: 75000, show: false });
    yAxis.push({ type: "value", gridIndex: i, min: 0, max: 1, show: false });
    series.push({
      type: "line", xAxisIndex: i, yAxisIndex: i, silent: true, z: 1,
      data: [[TIME_TICKS[1], 0], [TIME_TICKS[1], 1]], showSymbol: false, symbol: "none",
      lineStyle: { color: "#222", width: 1, type: [1.4, 1.4] },
    });
  };

  for (let c = 0; c < 4; c++) {
    for (let r = 0; r < 8; r++) {
      const nm = STATE_NAMES[r];
      addPanel({
        left: COL_LEFT[c], top: S_TOP0 + S_PITCH * r, h: S_H,
        min: STATE_RANGES[r][0], max: STATE_RANGES[r][1],
        est: STATE_EST[c][r], act: STATE_ACT[c][r], spk: STATE_SPK[c][r],
        color: r % 2 === 0 ? BLACK : CYAN, estW: 2.6,
        red: RED_COL[c], redW: 2.2, redDash: [2, 2.2],
        yName: c === 0 ? `{m|${nm[0]}}{s|${nm[1]}}\n{m|(a.u)}` : "", yNameGap: 26, nameSize: 16, subSize: 11,
        last: r === 7, letter: STATE_LETTERS[c], xNameGap: 35,
      });
    }
    for (let r = 0; r < 4; r++) {
      const nm = PARAM_NAMES[r];
      addPanel({
        left: COL_LEFT[c], top: P_TOP0 + P_PITCH * r, h: P_H,
        min: PARAM_RANGE[0], max: PARAM_RANGE[1],
        est: PARAM_EST[c][r], act: PARAM_ACT[c][r], spk: null,
        color: r % 2 === 0 ? BLACK : CYAN, estW: 3,
        red: RED_PAR[c], redW: 3.6, redDash: [3.4, 3.4],
        yName: c === 0 ? `{m|${nm[0]}}{s|${nm[1]}}` : "", yNameGap: 50, nameSize: 18, subSize: 12,
        last: r === 3, letter: PARAM_LETTERS[c], xNameGap: 30,
      });
    }
  }
  for (let c = 0; c < 4; c++) {
    addGuide(COL_LEFT[c], S_TOP0 - 3, S_PITCH * 7 + S_H + 3);
    addGuide(COL_LEFT[c], P_TOP0, P_PITCH * 3 + P_H);
  }

  const graphic: any[] = [
    { type: "rect", silent: true, z: 0, shape: { x: 7, y: 4, width: 1156, height: 1075 }, style: { fill: "none", stroke: "#c8c8c8", lineWidth: 2 } },
  ];
  COL_TITLES.forEach((t, c) => {
    graphic.push({
      type: "text", silent: true, x: COL_LEFT[c] + PLOT_W / 2, y: 31,
      style: { text: t, font: `23px ${SANS}`, fill: "#111", textAlign: "center", verticalAlign: "top", lineHeight: 27 },
    });
  });
  CAPTION_LINES.forEach((line, i) => {
    graphic.push({
      type: "text", silent: true, x: 16, y: 951 + 23.8 * i, scaleX: 1.08,
      style: {
        text: line, font: `20.5px ${SERIF}`, fill: "#111", textAlign: "left", verticalAlign: "middle",
        rich: {
          b: { fontWeight: "bold", fontSize: 20.5, fontFamily: SERIF, fill: "#111" },
          l: { fontSize: 20.5, fontFamily: SERIF, fill: "#2a7ab9" },
        },
      },
    });
  });

  return { animation: false, backgroundColor: "#ffffff", grid, xAxis, yAxis, series, graphic };
}

export default function App() {
  const ref = useRef<HTMLDivElement>(null);
  useEffect(() => {
    const chart = echarts.init(ref.current as HTMLDivElement, null, { renderer: "svg" });
    chart.setOption(buildOption() as any);
    return () => chart.dispose();
  }, []);
  return <div ref={ref} style={{ position: "absolute", left: 0, top: 0, width: 1170, height: 1086, background: "#fff" }} />;
}
